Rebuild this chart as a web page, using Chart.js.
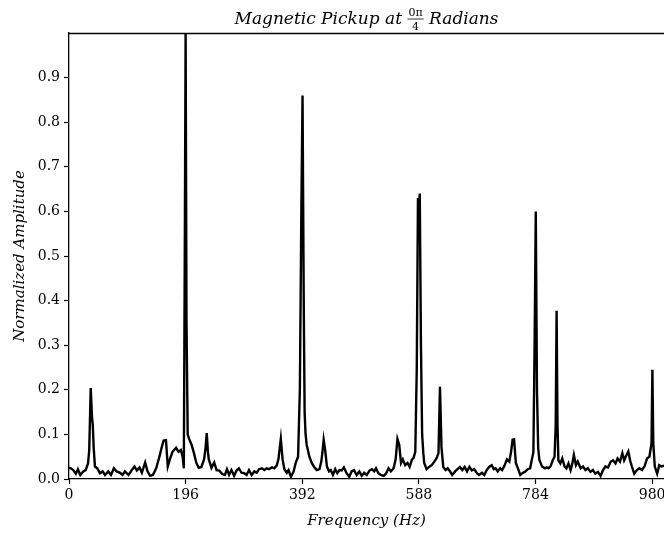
<!DOCTYPE html>
<html>
<head>
<meta charset="utf-8">
<script src="https://cdn.jsdelivr.net/npm/chart.js@4/dist/chart.umd.min.js"></script>
<style>
html,body{margin:0;padding:0;background:#fff;overflow:hidden;}
canvas{display:block;}
</style>
</head>
<body>
<canvas id="c" width="664" height="534"></canvas>
<script>
const titleMain = "Magnetic Pickup at ";
const titleNum = "0\u03c0";
const titleDen = "4";
const titleEnd = " Radians";
const xLabel = "Frequency (Hz)";
const yLabel = "Normalized Amplitude";
const xTicks = [0, 196, 392, 588, 784, 980];
const yTicks = [0, 0.1, 0.2, 0.3, 0.4, 0.5, 0.6, 0.7, 0.8, 0.9];

const freqs = [0,3,7,11.5,15,19,24,28,32,34,36.5,38.6,40,41.5,43.6,47.5,52,56.6,60.5,66,70.5,75.5,80,86,90,94,100,105.5,110,114,118.5,122.5,128,132,136.5,141,146.5,152,156,159,163,166,170,174,180,184,188,191,193,194.5,196,197.5,199.5,201.5,206,210,214,218,222.5,227,229.5,231.5,233.5,235,239.5,244,248,252.5,257.5,262,265.5,269,273,277.5,281.5,285.5,290,294.5,298.5,302.5,307,311.5,315.5,319.5,324,328.5,332,336,341,345,349,352,356,359,362,366,369,373,377.5,381,385,388,390.5,392.5,394.5,396,397.5,399.4,404,408,412,416.5,421,424,426,428,430.5,433.5,437,440,443.5,447.5,451,454.5,458.5,462,466.5,471,475,479,483.5,488,492,496,500.5,505,509,513,516,520,524,529,533,537,541,545.5,549,552,555,558,561,565,569,572.5,576.5,579,582,584.5,586.5,588,589.5,591.5,593.5,595.5,597,601,605,609.5,614,618,621,623.5,626,629,633,636.5,640.5,644,649,653,657,661,665,669,673,677,681,685.5,689,694,698,702,706,710.5,714,717,720.5,724.5,728,732,736,740,743,745.5,748,751,754.5,758.5,762,767,771,775,778,780.5,782.5,784.5,786.5,788.5,790.5,795,800,803,806,809.5,813,816,818,819.5,821,822.5,825.8,829,833,836,839.5,843,846,848.5,852,855,860,864,868,872,876.5,880.5,884.5,889,893.5,897.5,901.5,906,910.5,914.5,918.5,922,926,930,933,937,940,943,946,950,954.5,958.5,963,967.5,971.5,975.5,979,980.5,982,984.5,988.5,992,995.5,1000];

const amps = [0.025,0.024,0.02,0.012,0.022,0.009,0.017,0.02,0.035,0.065,0.204,0.14,0.12,0.07,0.028,0.024,0.013,0.017,0.009,0.017,0.009,0.024,0.017,0.014,0.009,0.017,0.009,0.02,0.028,0.019,0.026,0.014,0.037,0.017,0.007,0.009,0.024,0.05,0.072,0.086,0.087,0.028,0.046,0.061,0.07,0.061,0.065,0.05,0.024,0.48,1.0,0.35,0.1,0.091,0.077,0.058,0.036,0.025,0.027,0.044,0.07,0.103,0.06,0.044,0.025,0.037,0.02,0.019,0.011,0.009,0.022,0.009,0.02,0.007,0.019,0.024,0.014,0.013,0.009,0.02,0.009,0.017,0.014,0.022,0.024,0.02,0.024,0.022,0.026,0.024,0.03,0.044,0.09,0.044,0.022,0.014,0.02,0.005,0.017,0.036,0.05,0.2,0.6,0.86,0.4,0.15,0.103,0.077,0.05,0.036,0.027,0.02,0.022,0.039,0.06,0.088,0.065,0.028,0.017,0.02,0.009,0.022,0.013,0.02,0.019,0.026,0.013,0.005,0.017,0.02,0.009,0.017,0.007,0.014,0.009,0.019,0.022,0.017,0.024,0.013,0.009,0.007,0.013,0.024,0.017,0.024,0.044,0.09,0.077,0.036,0.044,0.031,0.036,0.027,0.044,0.047,0.061,0.25,0.63,0.6,0.64,0.3,0.1,0.058,0.036,0.022,0.027,0.031,0.039,0.047,0.058,0.207,0.072,0.027,0.02,0.024,0.017,0.009,0.017,0.022,0.027,0.02,0.027,0.017,0.027,0.019,0.022,0.013,0.009,0.014,0.009,0.02,0.027,0.031,0.022,0.024,0.017,0.024,0.02,0.03,0.044,0.039,0.061,0.088,0.089,0.036,0.024,0.009,0.013,0.017,0.022,0.024,0.044,0.06,0.3,0.6,0.2,0.07,0.043,0.028,0.024,0.026,0.024,0.029,0.042,0.05,0.12,0.377,0.12,0.042,0.035,0.046,0.028,0.024,0.035,0.02,0.035,0.054,0.031,0.039,0.024,0.028,0.02,0.024,0.016,0.02,0.012,0.016,0.007,0.02,0.028,0.026,0.039,0.042,0.035,0.046,0.039,0.058,0.042,0.054,0.062,0.042,0.028,0.012,0.02,0.024,0.02,0.029,0.046,0.05,0.08,0.245,0.08,0.028,0.012,0.031,0.028,0.03];

const SERIF = '"DejaVu Serif", "Liberation Serif", serif';

const textPlugin = {
  id: 'texts',
  afterDraw(chart) {
    const ctx = chart.ctx;
    const a = chart.chartArea;
    ctx.save();
    // top spine
    ctx.strokeStyle = '#000';
    ctx.lineWidth = 1.3;
    ctx.beginPath();
    ctx.moveTo(a.left, a.top + 0.5);
    ctx.lineTo(a.right, a.top + 0.5);
    ctx.stroke();
    ctx.fillStyle = '#000';
    // title
    const big = 'italic 17px ' + SERIF;
    const smallUp = '11px ' + SERIF;
    ctx.font = big;
    const w1 = ctx.measureText(titleMain).width;
    const w3 = ctx.measureText(titleEnd).width;
    ctx.font = smallUp;
    const wn = ctx.measureText(titleNum).width;
    const fracW = wn + 2;
    const total = w1 + fracW + w3;
    const cx = (a.left + a.right) / 2;
    let x = cx - total / 2;
    const base = 24;
    ctx.textBaseline = 'alphabetic';
    ctx.textAlign = 'left';
    ctx.font = big;
    ctx.fillText(titleMain, x, base);
    x += w1;
    ctx.font = smallUp;
    ctx.textAlign = 'center';
    ctx.fillText(titleNum, x + fracW / 2, 16);
    ctx.fillText(titleDen, x + fracW / 2, 30);
    ctx.lineWidth = 0.8;
    ctx.beginPath();
    ctx.moveTo(x, 19);
    ctx.lineTo(x + fracW, 19);
    ctx.stroke();
    x += fracW;
    ctx.textAlign = 'left';
    ctx.font = big;
    ctx.fillText(titleEnd, x, base);
    // x label
    ctx.font = 'italic 15px ' + SERIF;
    ctx.textAlign = 'center';
    ctx.textBaseline = 'middle';
    ctx.fillText(xLabel, cx, 521);
    // y label
    ctx.translate(20, (a.top + a.bottom) / 2);
    ctx.rotate(-Math.PI / 2);
    ctx.fillText(yLabel, 0, 0);
    ctx.restore();
  }
};

const points = freqs.map((f, i) => ({ x: f, y: amps[i] }));

new Chart(document.getElementById('c'), {
  type: 'line',
  data: {
    datasets: [{
      data: points,
      borderColor: '#000',
      borderWidth: 2.4,
      pointRadius: 0,
      tension: 0,
      fill: false
    }]
  },
  options: {
    responsive: false,
    animation: false,
    devicePixelRatio: 1,
    layout: { padding: { top: 33, left: 0, right: 0, bottom: 0 } },
    plugins: { legend: { display: false }, title: { display: false }, tooltip: { enabled: false } },
    scales: {
      x: {
        type: 'linear',
        min: 0,
        max: 1000,
        afterBuildTicks: s => { s.ticks = xTicks.map(v => ({ value: v })); },
        afterFit: s => { s.height = 55; s.paddingLeft = 0; s.paddingRight = 0; },
        grid: { drawOnChartArea: false, drawTicks: true, tickLength: 5, tickWidth: 1.2, tickColor: '#000' },
        border: { color: '#000', width: 1.3 },
        ticks: { color: '#000', font: { family: SERIF, size: 14 }, padding: 3, maxRotation: 0, autoSkip: false, callback: v => String(v) }
      },
      y: {
        type: 'linear',
        min: 0,
        max: 1.0,
        afterBuildTicks: s => { s.ticks = yTicks.map(v => ({ value: v })); },
        afterFit: s => { s.width = 69; s.paddingTop = 0; s.paddingBottom = 0; },
        grid: { drawOnChartArea: false, drawTicks: true, tickLength: 5, tickWidth: 1.2, tickColor: '#000' },
        border: { color: '#000', width: 1.3 },
        ticks: { color: '#000', font: { family: SERIF, size: 14 }, padding: 4, autoSkip: false, callback: v => Number(v).toFixed(1) }
      }
    }
  },
  plugins: [textPlugin]
});
</script>
</body>
</html>
